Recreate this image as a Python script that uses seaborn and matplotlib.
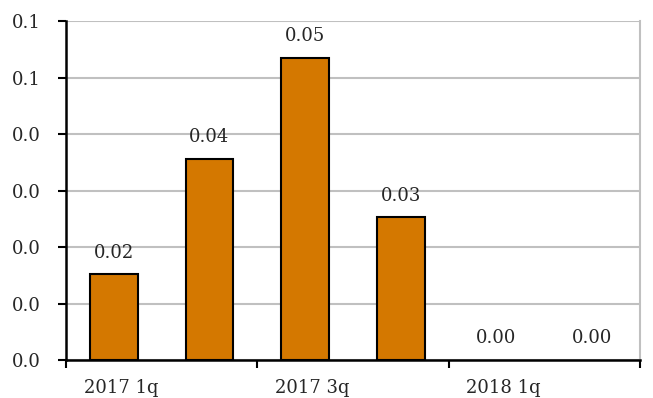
import matplotlib
matplotlib.use("Agg")
import matplotlib.pyplot as plt
import matplotlib.transforms as mtransforms
from matplotlib.ticker import FormatStrFormatter, FixedLocator
import seaborn as sns
import pandas as pd

quarters = ["2017 1q", "2017 2q", "2017 3q", "2017 4q", "2018 1q", "2018 2q"]
values = [0.0152, 0.0356, 0.0535, 0.0253, 0.0, 0.0]
shown_labels = ["2017 1q", "", "2017 3q", "", "2018 1q", ""]

sns.set_theme(style="white")
plt.rcParams["font.family"] = ["DejaVu Serif"]

df = pd.DataFrame({"quarter": quarters, "value": values})

fig = plt.figure(figsize=(6.53, 3.98), dpi=100)
ax = fig.add_axes([0.101, 0.0955, 0.879, 0.8515])

sns.barplot(data=df, x="quarter", y="value", color="#D47800", width=0.5,
            edgecolor="black", linewidth=1.5, saturation=1, ax=ax, zorder=3)

# empty quarters get no outline
for patch, v in zip(ax.patches, values):
    if v == 0:
        patch.set_linewidth(0)

ax.set_xlim(-0.5, len(quarters) - 0.5)
ax.set_ylim(0, 0.06)
ax.set_yticks([0, 0.01, 0.02, 0.03, 0.04, 0.05, 0.06])
ax.yaxis.set_major_formatter(FormatStrFormatter("%.1f"))
ax.grid(axis="y", color="#c0c0c0", linewidth=1.5, zorder=0)
ax.set_axisbelow(True)

# category labels on every other bar, tick marks on every other boundary
ax.set_xticks(range(len(quarters)))
ax.set_xticklabels(shown_labels)
ax.tick_params(axis="x", which="major", bottom=True, length=0, pad=14, labelsize=13)
shift = mtransforms.ScaledTranslation(7 / 100, 0, fig.dpi_scale_trans)
for lbl in ax.get_xticklabels():
    lbl.set_transform(lbl.get_transform() + shift)
ax.xaxis.set_minor_locator(FixedLocator([-0.5, 1.5, 3.5, 5.5]))
ax.tick_params(axis="x", which="minor", bottom=True, length=6, width=1.5,
               color="black", direction="out")
ax.tick_params(axis="y", which="major", left=True, length=6, width=1.5,
               color="black", direction="out", labelsize=13, pad=12)

for side in ["left", "bottom"]:
    ax.spines[side].set_color("black")
    ax.spines[side].set_linewidth(1.8)
ax.spines["top"].set_visible(False)
ax.spines["right"].set_color("#c0c0c0")
ax.spines["right"].set_linewidth(1.5)

ax.set_xlabel("")
ax.set_ylabel("")

for i, v in enumerate(values):
    ax.annotate(f"{v:.2f}", (i, v), xytext=(0, 9), textcoords="offset points",
                ha="center", va="bottom", fontsize=13)

fig.savefig("out.png", dpi=100)
